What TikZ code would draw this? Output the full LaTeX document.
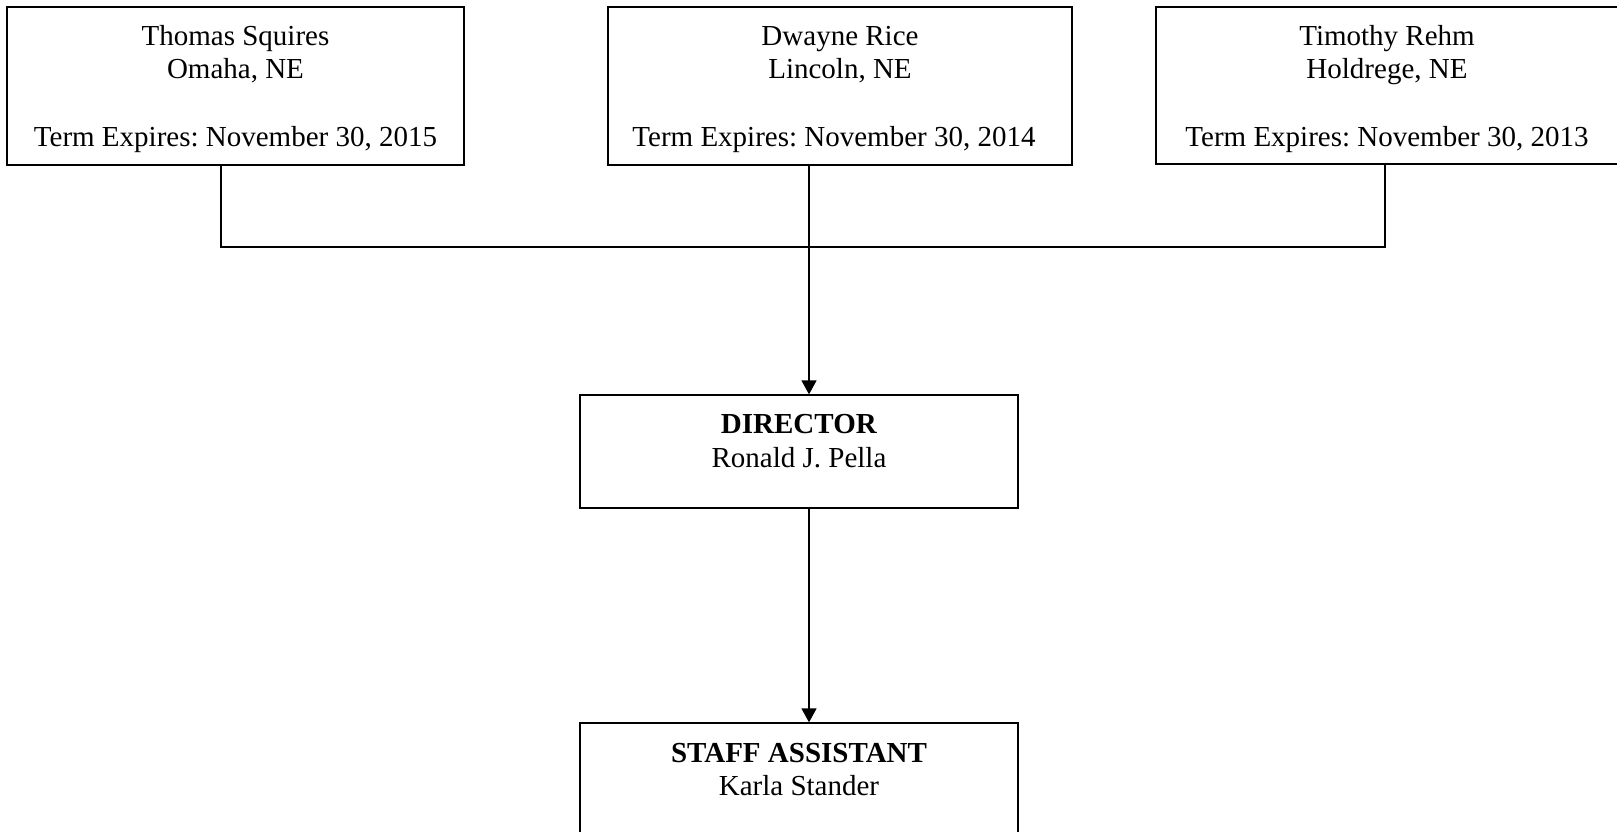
\documentclass[tikz,border=0pt]{standalone}
\usepackage{fontspec}
\setmainfont{Liberation Serif}
\usetikzlibrary{arrows.meta}
\frenchspacing
\begin{document}
\begin{tikzpicture}[x=1pt,y=-1pt,
  box/.style={draw, line width=1.3pt, inner sep=0pt},
  txt/.style={anchor=base, inner sep=0pt, font=\fontsize{29}{33.5}\selectfont},
  conn/.style={line width=1.3pt},
  arr/.style={line width=1.3pt, -{Triangle[width=15pt,length=14pt]}}]
\useasboundingbox (0,0) rectangle (1617,831);
% top boxes
\node[box, minimum width=457pt, minimum height=158pt] (b1) at (235.5,86) {};
\node[box, minimum width=464pt, minimum height=158pt] (b2) at (840,86) {};
\node[box, minimum width=464pt, minimum height=157pt] (b3) at (1388,85.5) {};
\node[txt] (t1a) at (235.5,45) {Thomas Squires};
\node[txt] (t1b) at (235.5,78) {Omaha, NE};
\node[txt] (t1c) at (235.5,146) {Term Expires: November 30, 2015};
\node[txt] (t2a) at (840,45) {Dwayne Rice};
\node[txt] (t2b) at (840,78) {Lincoln, NE};
\node[txt] (t2c) at (834,146) {Term Expires: November 30, 2014};
\node[txt] (t3a) at (1387,45) {Timothy Rehm};
\node[txt] (t3b) at (1387,78) {Holdrege, NE};
\node[txt] (t3c) at (1387,146) {Term Expires: November 30, 2013};
% director
\node[box, minimum width=438pt, minimum height=113pt] (dir) at (799,451.5) {};
\node[txt] (d1) at (799,433) {\textbf{DIRECTOR}};
\node[txt] (d2) at (799,467) {Ronald J. Pella};
% staff
\node[box, minimum width=438pt, minimum height=160pt] (staff) at (799,803) {};
\node[txt] (s1) at (799,762) {\textbf{STAFF ASSISTANT}};
\node[txt] (s2) at (799,795) {Karla Stander};
% connectors
\coordinate (j1) at (221,247);
\coordinate (j3) at (1385,247);
\coordinate (ax) at (809,300);
\draw[conn] (b1.south -| j1) -- (j1) -- (j3) -- (b3.south -| j3);
\draw[arr] (b2.south -| ax) -- (dir.north -| ax);
\draw[arr] (dir.south -| ax) -- (staff.north -| ax);
\end{tikzpicture}
\end{document}
